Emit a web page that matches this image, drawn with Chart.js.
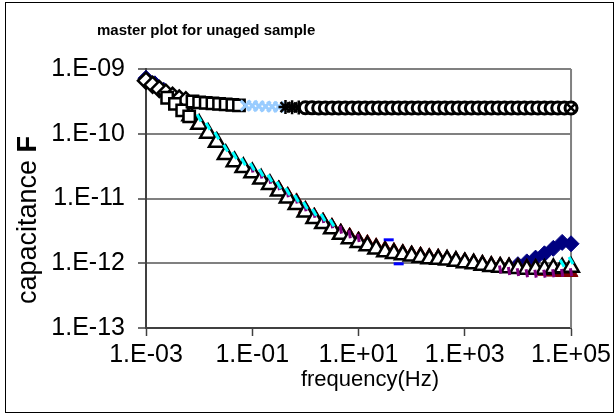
<!DOCTYPE html>
<html>
<head>
<meta charset="utf-8">
<script src="https://cdn.jsdelivr.net/npm/chart.js@4"></script>
<style>
  html, body { margin: 0; padding: 0; background: #fff; }
  #wrap { width: 615px; height: 419px; }
</style>
</head>
<body>
<div id="wrap"><canvas id="masterChart" width="615" height="419"></canvas></div>
<script>
// master plot for unaged sample — capacitance vs frequency, log/log

// ── axis ticks ──────────────────────────────────────────────────────────────
const xTicks = [1e-3, 1e-1, 1e1, 1e3, 1e5];
const yTicks = [1e-13, 1e-12, 1e-11, 1e-10, 1e-9];

// ── frequency grids (Hz) ────────────────────────────────────────────────────
const freq6 = [
  1e-3, 1.47e-3, 2.15e-3, 3.16e-3, 4.64e-3, 6.81e-3,
  1e-2, 1.47e-2, 2.15e-2, 3.16e-2, 4.64e-2, 6.81e-2,
  0.1, 0.147, 0.215, 0.316, 0.464, 0.681,
  1, 1.47, 2.15, 3.16, 4.64, 6.81,
  10, 14.7, 21.5, 31.6, 46.4, 68.1,
  100, 147, 215, 316, 464, 681,
  1e3, 1.47e3, 2.15e3, 3.16e3, 4.64e3, 6.81e3,
  1e4, 1.47e4, 2.15e4, 3.16e4, 4.64e4, 6.81e4,
  1e5
];
const freq8 = [
  1e-3, 1.33e-3, 1.78e-3, 2.37e-3, 3.16e-3, 4.22e-3, 5.62e-3, 7.5e-3,
  1e-2, 1.33e-2, 1.78e-2, 2.37e-2, 3.16e-2, 4.22e-2, 5.62e-2, 7.5e-2,
  0.1, 0.133, 0.178, 0.237, 0.316, 0.422, 0.562, 0.75,
  1, 1.33, 1.78, 2.37, 3.16, 4.22, 5.62, 7.5,
  10, 13.3, 17.8, 23.7, 31.6, 42.2, 56.2, 75,
  100, 133, 178, 237, 316, 422, 562, 750,
  1e3, 1.33e3, 1.78e3, 2.37e3, 3.16e3, 4.22e3, 5.62e3, 7.5e3,
  1e4, 1.33e4, 1.78e4, 2.37e4, 3.16e4, 4.22e4, 5.62e4, 7.5e4,
  1e5
];

// ── lower branch (on freq6, null = no point) ────────────────────────────────
const triangleC = [
  null, null, null, null, null, 1.9e-10,
  1.4e-10, 1.02e-10, 7.4e-11, 4.8e-11, 3.7e-11, 3.0e-11,
  2.5e-11, 2.0e-11, 1.65e-11, 1.3e-11, 1.02e-11, 8.1e-12,
  6.2e-12, 4.9e-12, 4.1e-12, 3.4e-12, 2.8e-12, 2.4e-12,
  2.1e-12, 1.86e-12, 1.66e-12, 1.5e-12, 1.41e-12, 1.35e-12,
  1.29e-12, 1.23e-12, 1.17e-12, 1.15e-12, 1.12e-12, 1.07e-12,
  1.02e-12, 9.8e-13, 9.3e-13, 8.9e-13, 8.7e-13, 8.5e-13,
  8.3e-13, 8.1e-13, 8.1e-13, 8.1e-13, 8.3e-13, 8.5e-13,
  8.7e-13
];
const darkRedC = [
  null, null, null, null, null, null,
  null, null, null, null, null, null,
  null, null, null, 1.45e-11, 1.15e-11, 9.2e-12,
  7.0e-12, 5.5e-12, 4.6e-12, 3.8e-12, 3.1e-12, 2.7e-12,
  2.35e-12, 2.1e-12, 1.87e-12, 1.7e-12, 1.58e-12, 1.5e-12,
  1.43e-12, 1.37e-12, 1.3e-12, 1.27e-12, 1.22e-12, 1.17e-12,
  1.12e-12, 1.07e-12, 1.02e-12, 9.8e-13, 9.5e-13, 9.3e-13,
  9.1e-13, 8.9e-13, 8.8e-13, 7.5e-13, 7.3e-13, 7.2e-13,
  7.2e-13
];
const cyanC = [
  null, null, null, null, null, null,
  1.75e-10, 1.3e-10, 9.3e-11, 6.0e-11, 4.6e-11, 3.7e-11,
  3.1e-11, 2.5e-11, 2.05e-11, 1.6e-11, 1.28e-11, 1.0e-11,
  7.8e-12, 6.1e-12, 5.1e-12, 4.2e-12, null, null,
  null, null, null, null, null, null,
  null, null, null, null, null, null,
  null, null, null, null, null, null,
  null, null, null, null, null, 1.0e-12,
  1.1e-12
];
const purpleC = [
  null, null, null, null, null, null,
  null, null, null, null, null, null,
  2.9e-11, 2.35e-11, 1.95e-11, 1.55e-11, 1.2e-11, 9.6e-12,
  7.3e-12, 5.8e-12, 4.8e-12, 4.0e-12, 3.3e-12, 2.8e-12,
  2.45e-12, null, null, null, null, null,
  null, null, null, null, null, null,
  null, null, null, null, 8.0e-13, 7.6e-13,
  7.3e-13, 7.0e-13, 6.9e-13, 6.9e-13, 7.0e-13, 7.1e-13,
  7.3e-13
];
const navyC = [
  7.2e-10, 5.9e-10, 4.7e-10, null, null, null,
  null, null, null, null, null, null,
  null, null, null, null, null, null,
  null, null, null, null, null, null,
  null, null, null, null, null, null,
  null, null, null, null, null, null,
  null, null, null, null, null, null,
  9.5e-13, 1.05e-12, 1.2e-12, 1.4e-12, 1.7e-12, 2.1e-12,
  2.0e-12
];
const lowSquareF = [2.5e-3, 3.5e-3, 4.8e-3, 6.5e-3];
const lowSquareC = [3.6e-10, 2.9e-10, 2.3e-10, 1.85e-10];
const blueDashF = [37, 57];
const blueDashC = [2.3e-12, 9.8e-13];

// ── upper branch (on freq8 slices) ──────────────────────────────────────────
const diamondC = [6.6e-10, 5.7e-10, 4.9e-10, 4.3e-10, 3.85e-10, 3.5e-10, 3.3e-10];          // freq8[0..6]
const squareC  = [3.15e-10, 3.05e-10, 3.0e-10, 2.95e-10, 2.9e-10, 2.85e-10, 2.8e-10, 2.75e-10]; // freq8[7..14]
const lightXC  = [2.72e-10, 2.7e-10, 2.67e-10, 2.64e-10, 2.62e-10, 2.6e-10];               // freq8[15..20]
const starC    = [2.58e-10, 2.56e-10, 2.54e-10];                                           // freq8[21..23]
const circleC  = [                                                                         // freq8[24..64]
  2.52e-10, 2.51e-10, 2.5e-10, 2.5e-10, 2.5e-10, 2.5e-10, 2.5e-10, 2.5e-10,
  2.5e-10, 2.5e-10, 2.5e-10, 2.5e-10, 2.5e-10, 2.5e-10, 2.5e-10, 2.5e-10,
  2.5e-10, 2.5e-10, 2.5e-10, 2.5e-10, 2.5e-10, 2.5e-10, 2.5e-10, 2.5e-10,
  2.5e-10, 2.5e-10, 2.5e-10, 2.5e-10, 2.5e-10, 2.5e-10, 2.5e-10, 2.5e-10,
  2.5e-10, 2.5e-10, 2.5e-10, 2.5e-10, 2.5e-10, 2.5e-10, 2.5e-10, 2.5e-10,
  2.5e-10
];
const endXF = [1e5];
const endXC = [2.5e-10];

// ── helpers ─────────────────────────────────────────────────────────────────
const zip = (fs, cs) => fs.map((f, i) => ({ x: f, y: cs[i] })).filter(p => p.y != null);
const fmtExp = v => {
  const e = Math.round(Math.log10(v));
  return '1.E' + (e < 0 ? '-' : '+') + String(Math.abs(e)).padStart(2, '0');
};
const FONT = "'Liberation Sans', Arial, sans-serif";

const pts = (data, style, radius, fill, stroke, width, rotation = 0) => ({
  data, showLine: false, clip: false,
  pointStyle: style, pointRadius: radius, pointRotation: rotation,
  pointBackgroundColor: fill, pointBorderColor: stroke, pointBorderWidth: width,
});

// first dataset is drawn on top
const datasets = [
  pts(zip(endXF, endXC), 'crossRot', 6, '#000', '#000', 2.5),
  pts(zip(freq8.slice(24), circleC), 'circle', 6, '#fff', '#000', 3),
  pts(zip(freq8.slice(21, 24), starC), 'star', 7, '#000', '#000', 2.5),
  pts(zip(freq8.slice(15, 21), lightXC), 'crossRot', 7, '#99ccff', '#99ccff', 3),
  pts(zip(freq8.slice(7, 15), squareC), 'rect', 8, '#fff', '#000', 2.5),
  pts(zip(lowSquareF, lowSquareC), 'rect', 8, '#fff', '#000', 2.5),
  pts(zip(freq8.slice(0, 7), diamondC), 'rectRot', 8, '#fff', '#000', 2.5),
  pts(zip(freq6, cyanC), 'line', 4, '#00ffff', '#00ffff', 3, 60),
  pts(zip(freq6, purpleC), 'line', 4, '#800080', '#800080', 3, 80),
  pts(zip(freq6, triangleC), 'triangle', 9, '#fff', '#000', 2.5),
  pts(zip(blueDashF, blueDashC), 'line', 5, '#0000ff', '#0000ff', 3),
  pts(zip(freq6, darkRedC), 'triangle', 8, '#800000', '#800000', 1),
  pts(zip(freq6, navyC), 'rectRot', 8, '#000080', '#000080', 1),
];

// ── frame, plot border and titles ───────────────────────────────────────────
const decor = {
  id: 'decor',
  beforeDatasetsDraw(chart) {
    const { ctx, chartArea: a } = chart;
    ctx.save();
    ctx.strokeStyle = '#808080';
    ctx.lineWidth = 2;
    ctx.beginPath();
    ctx.moveTo(a.right, a.top);
    ctx.lineTo(a.right, a.bottom);
    ctx.stroke();
    ctx.restore();
  },
  afterDraw(chart) {
    const { ctx } = chart;
    ctx.save();
    ctx.strokeStyle = '#000';
    ctx.lineWidth = 1;
    ctx.strokeRect(5.5, 2.5, 608, 410);

    ctx.fillStyle = '#000';
    ctx.textBaseline = 'alphabetic';
    ctx.font = `bold 15px ${FONT}`;
    ctx.textAlign = 'left';
    ctx.fillText('master plot for unaged sample', 97, 35);

    ctx.font = `22px ${FONT}`;
    ctx.textAlign = 'center';
    ctx.fillText('frequency(Hz)', 370, 386);

    // y title: "capacitance " regular + "F" bold, reading upward
    ctx.translate(36, 220);
    ctx.rotate(-Math.PI / 2);
    ctx.font = `27px ${FONT}`;
    const w1 = ctx.measureText('capacitance ').width;
    ctx.font = `bold 27px ${FONT}`;
    const w2 = ctx.measureText('F').width;
    ctx.textAlign = 'left';
    ctx.font = `27px ${FONT}`;
    ctx.fillText('capacitance ', -(w1 + w2) / 2, 0);
    ctx.font = `bold 27px ${FONT}`;
    ctx.fillText('F', -(w1 + w2) / 2 + w1, 0);
    ctx.restore();
  }
};

new Chart(document.getElementById('masterChart'), {
  type: 'scatter',
  data: { datasets },
  options: {
    responsive: false, animation: false,
    layout: { padding: { left: 0, right: 42, top: 69, bottom: 0 } },
    plugins: { legend: { display: false }, tooltip: { enabled: false }, title: { display: false } },
    scales: {
      x: {
        type: 'logarithmic', min: 1e-3, max: 1e5,
        afterFit: s => { s.height = 91; },
        afterBuildTicks: s => { s.ticks = xTicks.map(v => ({ value: v })); },
        grid: { drawOnChartArea: false, drawTicks: true, tickLength: 8, tickColor: '#404040', tickWidth: 1.5 },
        border: { color: '#404040', width: 2 },
        ticks: { callback: v => fmtExp(v), autoSkip: false, maxRotation: 0, padding: 4, color: '#000', font: { family: FONT, size: 25 } },
      },
      y: {
        type: 'logarithmic', min: 1e-13, max: 1e-9,
        afterFit: s => { s.width = 146; },
        afterBuildTicks: s => { s.ticks = yTicks.map(v => ({ value: v })); },
        grid: { color: '#808080', lineWidth: 2, drawTicks: true, tickLength: 8, tickColor: '#404040', tickWidth: 1.5 },
        border: { color: '#404040', width: 2 },
        ticks: { callback: v => fmtExp(v), autoSkip: false, padding: 13, color: '#000', font: { family: FONT, size: 25 } },
      }
    }
  },
  plugins: [decor]
});
</script>
</body>
</html>
